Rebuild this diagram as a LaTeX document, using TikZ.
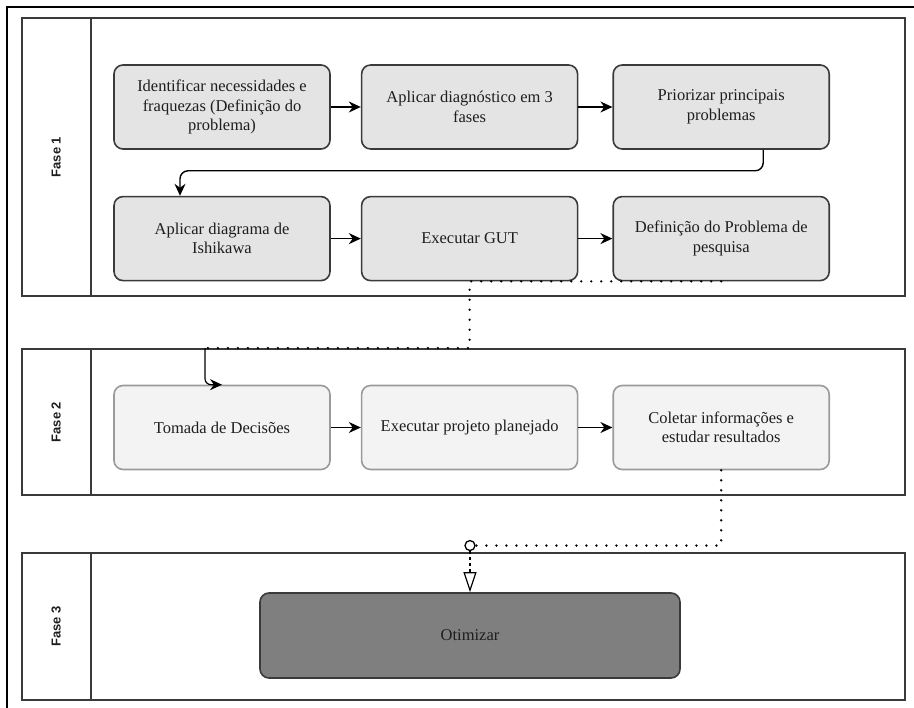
\documentclass[tikz,border=0pt]{standalone}
\usepackage{fontspec}
\setmainfont{Liberation Serif}
\newfontfamily\lanefont{Liberation Sans}
\usetikzlibrary{arrows.meta,positioning,calc}
\definecolor{ink}{HTML}{1E1E1E}
\definecolor{edge}{HTML}{3A3A3A}
\definecolor{boxgray}{HTML}{E4E4E4}
\definecolor{boxlight}{HTML}{F3F3F3}
\definecolor{boxline}{HTML}{9A9A9A}
\definecolor{boxdark}{HTML}{7F7F7F}

\begin{document}
\begin{tikzpicture}[x=1pt,y=-1pt,
  task/.style={draw=edge,fill=boxgray,line width=1.6pt,rounded corners=9pt,
    align=center,minimum width=216pt,minimum height=84pt,text=ink,
    font=\fontsize{16.5}{19.5}\selectfont,inner sep=2pt},
  tasklight/.style={task,draw=boxline,fill=boxlight},
  taskdark/.style={task,fill=boxdark,minimum width=420pt,minimum height=85pt},
  lane/.style={draw=edge,line width=1.8pt,minimum width=883pt},
  lanelabel/.style={rotate=90,font=\lanefont\bfseries\fontsize{13}{15}\selectfont,text=ink},
  laneline/.style={draw=edge,line width=1.8pt},
  flow/.style={draw=black,line width=1.4pt,-{Stealth[length=12pt,width=11pt]}},
  dotflow/.style={draw=black,line width=2.6pt,dash pattern=on 0pt off 10pt,line cap=round},
  startmark/.style={circle,draw=black,fill=white,line width=1.3pt,minimum size=10pt,inner sep=0pt}
]
\useasboundingbox (0,0) rectangle (914,708);
\draw[black,line width=1.6pt] (7,720) -- (7,7) -- (920,7);

% lanes
\node[lane,minimum height=278pt] (lane1) at (463.5,157) {};
\node[lane,minimum height=146pt] (lane2) at (463.5,422) {};
\node[lane,minimum height=147pt] (lane3) at (463.5,626.5) {};
\foreach \l in {lane1,lane2,lane3}
  \draw[laneline] ([xshift=70pt]\l.north west) -- ([xshift=70pt]\l.south west);
\node[lanelabel] (fase1) at ($(lane1.west)+(35pt,0)$) {Fase 1};
\node[lanelabel] (fase2) at ($(lane2.west)+(35pt,0)$) {Fase 2};
\node[lanelabel] (fase3) at ($(lane3.west)+(35pt,0)$) {Fase 3};

% fase 1
\node[task] (ident) at (222,107) {Identificar necessidades e\\fraquezas (Definição do\\problema)};
\node[task,right=30pt of ident] (diag) {Aplicar diagnóstico em 3\\fases};
\node[task,right=34pt of diag] (prior) {Priorizar principais\\problemas};
\node[task,below=46pt of ident] (ishik) {Aplicar diagrama de\\Ishikawa};
\node[task,right=30pt of ishik] (gut) {Executar GUT};
\node[task,right=34pt of gut] (defprob) {Definição do Problema de\\pesquisa};

% fase 2
\node[tasklight] (decis) at (222,427.5) {Tomada de Decisões};
\node[tasklight,right=30pt of decis] (exec) {Executar projeto planejado};
\node[tasklight,right=34pt of exec] (colet) {Coletar informações e\\estudar resultados};

% fase 3
\node[taskdark] (otim) at (470,635.5) {Otimizar};

\draw[flow] (ident) -- (diag);
\draw[flow] (diag) -- (prior);
\draw[flow,rounded corners=8pt] ([xshift=42pt]prior.south) -- ++(0,21) -| ([xshift=-42pt]ishik.north);
\draw[flow] (ishik) -- (gut);
\draw[flow] (gut) -- (defprob);
\draw[flow] (decis) -- (exec);
\draw[flow] (exec) -- (colet);

\coordinate (drop) at ([xshift=-17pt]decis.north |- lane2.north);
\draw[dotflow] (defprob.south) -- (gut.south) -- (gut.south |- lane2.north) -- (drop);
\draw[flow,line width=1.2pt,rounded corners=6pt] (drop) |- (decis.north);

\node[startmark,above=41pt of otim.north] (mark) {};
\draw[dotflow] (colet.south) |- (mark.east);
\draw[line width=1.2pt,dashed,-{Triangle[open,length=20pt,width=13pt,line width=1.2pt]}] (mark.south) -- (otim.north);
\end{tikzpicture}
\end{document}
